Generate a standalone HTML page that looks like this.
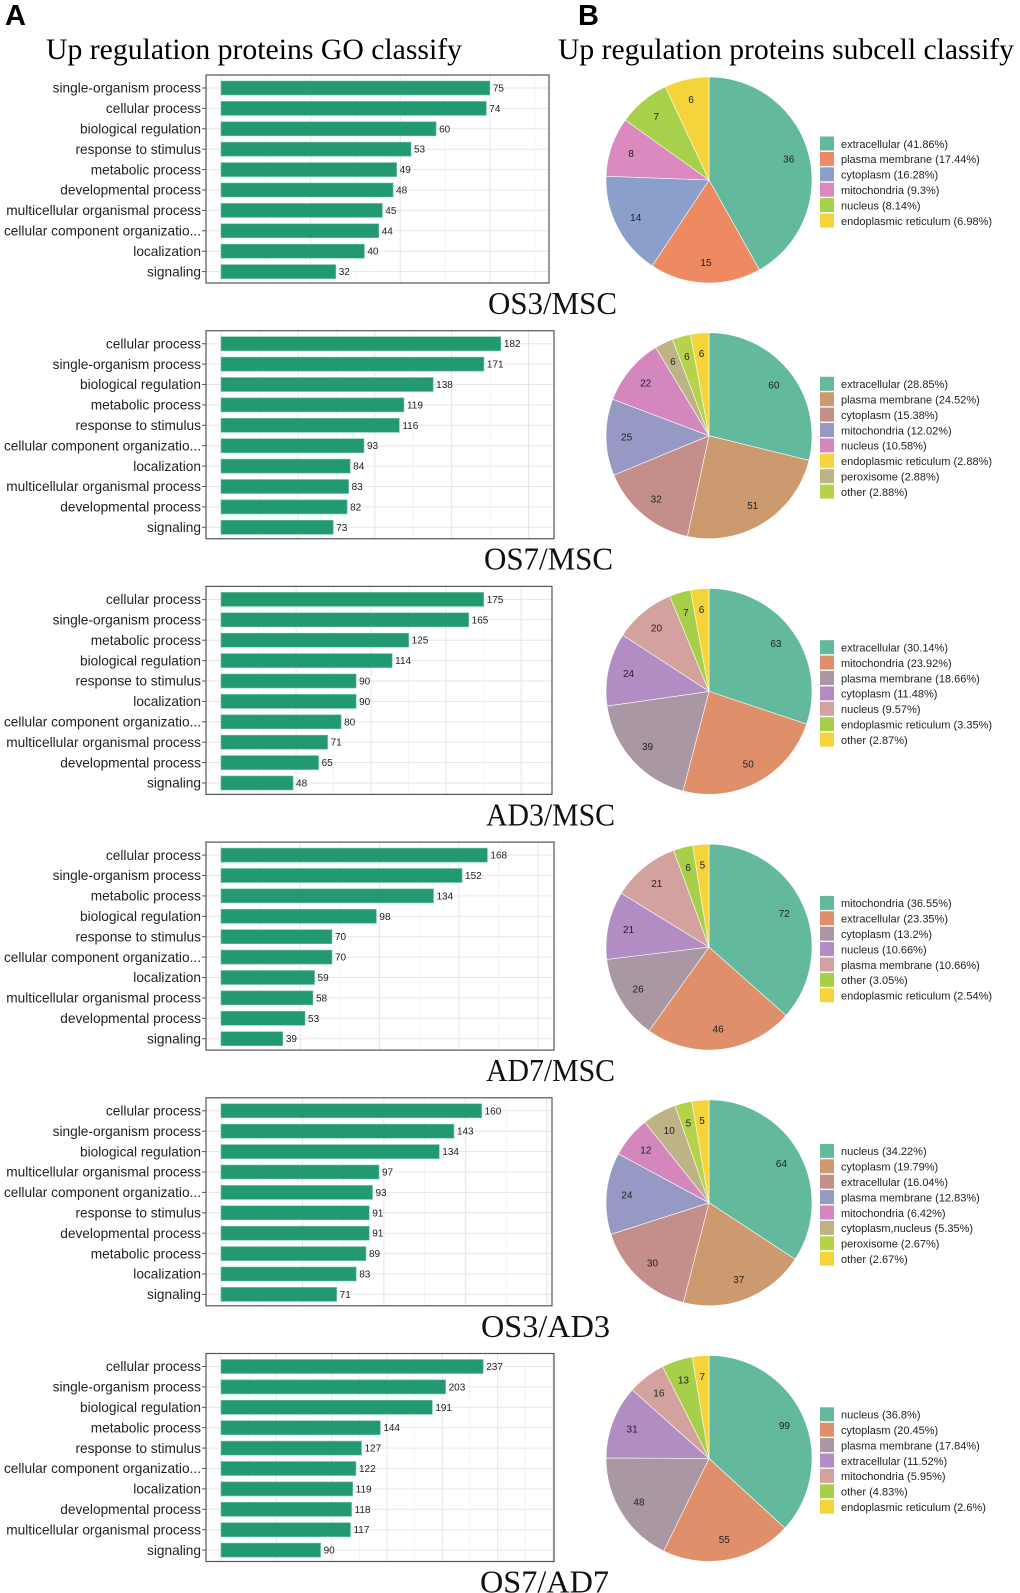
<!DOCTYPE html>
<html><head><meta charset="utf-8">
<style>
html,body{margin:0;padding:0;background:#fff;}
svg{display:block;font-family:"Liberation Sans",sans-serif;}
.serif{font-family:"Liberation Serif",serif;}
</style></head>
<body>
<svg id="fig" width="1020" height="1593" viewBox="0 0 1020 1593" xmlns="http://www.w3.org/2000/svg">
<text x="5" y="25" font-size="29" font-weight="bold">A</text>
<text x="578" y="25" font-size="29" font-weight="bold">B</text>
<text class="serif" x="46" y="59" font-size="30" textLength="416" lengthAdjust="spacingAndGlyphs">Up regulation proteins GO classify</text>
<text class="serif" x="558" y="59" font-size="30" textLength="456" lengthAdjust="spacingAndGlyphs">Up regulation proteins subcell classify</text>
</svg>
<script>
// ---- data ----
const comparisons = ["OS3/MSC","OS7/MSC","AD3/MSC","AD7/MSC","OS3/AD3","OS7/AD7"];
const goCats1 = ["single-organism process","cellular process","biological regulation","response to stimulus","metabolic process","developmental process","multicellular organismal process","cellular component organizatio...","localization","signaling"];
const goVals1 = [75,74,60,53,49,48,45,44,40,32];
const goCats2 = ["cellular process","single-organism process","biological regulation","metabolic process","response to stimulus","cellular component organizatio...","localization","multicellular organismal process","developmental process","signaling"];
const goVals2 = [182,171,138,119,116,93,84,83,82,73];
const goCats3 = ["cellular process","single-organism process","metabolic process","biological regulation","response to stimulus","localization","cellular component organizatio...","multicellular organismal process","developmental process","signaling"];
const goVals3 = [175,165,125,114,90,90,80,71,65,48];
const goCats4 = ["cellular process","single-organism process","metabolic process","biological regulation","response to stimulus","cellular component organizatio...","localization","multicellular organismal process","developmental process","signaling"];
const goVals4 = [168,152,134,98,70,70,59,58,53,39];
const goCats5 = ["cellular process","single-organism process","biological regulation","multicellular organismal process","cellular component organizatio...","response to stimulus","developmental process","metabolic process","localization","signaling"];
const goVals5 = [160,143,134,97,93,91,91,89,83,71];
const goCats6 = ["cellular process","single-organism process","biological regulation","metabolic process","response to stimulus","cellular component organizatio...","localization","developmental process","multicellular organismal process","signaling"];
const goVals6 = [237,203,191,144,127,122,119,118,117,90];

const subNames1 = ["extracellular","plasma membrane","cytoplasm","mitochondria","nucleus","endoplasmic reticulum"];
const subVals1 = [36,15,14,8,7,6];
const subPcts1 = ["41.86%","17.44%","16.28%","9.3%","8.14%","6.98%"];
const subNames2 = ["extracellular","plasma membrane","cytoplasm","mitochondria","nucleus","endoplasmic reticulum","peroxisome","other"];
const subVals2 = [60,51,32,25,22,6,6,6];
const subPcts2 = ["28.85%","24.52%","15.38%","12.02%","10.58%","2.88%","2.88%","2.88%"];
const subNames3 = ["extracellular","mitochondria","plasma membrane","cytoplasm","nucleus","endoplasmic reticulum","other"];
const subVals3 = [63,50,39,24,20,7,6];
const subPcts3 = ["30.14%","23.92%","18.66%","11.48%","9.57%","3.35%","2.87%"];
const subNames4 = ["mitochondria","extracellular","cytoplasm","nucleus","plasma membrane","other","endoplasmic reticulum"];
const subVals4 = [72,46,26,21,21,6,5];
const subPcts4 = ["36.55%","23.35%","13.2%","10.66%","10.66%","3.05%","2.54%"];
const subNames5 = ["nucleus","cytoplasm","extracellular","plasma membrane","mitochondria","cytoplasm,nucleus","peroxisome","other"];
const subVals5 = [64,37,30,24,12,10,5,5];
const subPcts5 = ["34.22%","19.79%","16.04%","12.83%","6.42%","5.35%","2.67%","2.67%"];
const subNames6 = ["nucleus","cytoplasm","plasma membrane","extracellular","mitochondria","other","endoplasmic reticulum"];
const subVals6 = [99,55,48,31,16,13,7];
const subPcts6 = ["36.8%","20.45%","17.84%","11.52%","5.95%","4.83%","2.6%"];
// clockwise drawing order of slices (indices into legend)
const pieOrder2 = [0,1,2,3,4,6,7,5];

// ---- styles / layout ----
const pal6 = ["#62b99d","#ee8a62","#8a9fc9","#db89bf","#a7d04b","#f5d33a"];
const pal7 = ["#62b99d","#df906a","#aa97a4","#b28dc4","#d4a29e","#a8cf4a","#f5d33a"];
const pal8 = ["#62b99d","#cc9a6e","#c48f8a","#9699c3","#d387bd","#beb387","#b5d24a","#f5d33a"];
const pal2 = ["#62b99d","#cc9a6e","#c48f8a","#9699c3","#d387bd","#f5d33a","#beb387","#b5d24a"];
const goCats=[goCats1,goCats2,goCats3,goCats4,goCats5,goCats6];
const goVals=[goVals1,goVals2,goVals3,goVals4,goVals5,goVals6];
const subNames=[subNames1,subNames2,subNames3,subNames4,subNames5,subNames6];
const subVals=[subVals1,subVals2,subVals3,subVals4,subVals5,subVals6];
const subPcts=[subPcts1,subPcts2,subPcts3,subPcts4,subPcts5,subPcts6];
const pals=[pal6,pal2,pal7,pal7,pal8,pal7];
const orders=[null,pieOrder2,null,null,null,null];
const domainFactor=[1.22,1.19,1.26,1.25,1.27,1.27];
const boxRights=[549,554,552,554,552,554];
const labelRights=[617,613,615,615,610,609];

const NS="http://www.w3.org/2000/svg";
const svg=document.getElementById('fig');
function mk(tag,attrs,parent){const e=document.createElementNS(NS,tag);for(const k in attrs)e.setAttribute(k,attrs[k]);(parent||svg).appendChild(e);return e;}

const PANEL_H=255.7;
for(let p=0;p<6;p++){
  const top=75+p*PANEL_H, bot=top+208, left=206, right=boxRights[p], x0=221;
  const vals=goVals[p], cats=goCats[p];
  const maxV=Math.max(...vals);
  const dom=maxV*domainFactor[p];
  const xs=v=>x0+v*(right-x0)/dom;
  const rowY=i=>top+13+i*20.4;
  const g=mk('g',{});
  
  
  const step = maxV>100?50:25;
  for(let t=0;t<=dom;t+=step/2){
    const gx=xs(t); if(gx>right) break;
    const major=(Math.round(t/(step/2))%2===0);
    const ln=mk('line',{x1:gx,x2:gx,y1:top,y2:bot,stroke:major?'#e6e6e6':'#f3f3f3','stroke-width':major?1:0.8},g);
    
    
  }
  cats.forEach((c,i)=>{
    const y=rowY(i);
    const gl=mk('line',{x1:left,x2:right,y1:y,y2:y,stroke:'#e6e6e6','stroke-width':1},g);
    
    
  });
  cats.forEach((c,i)=>{
    const y=rowY(i);
    const b=mk('rect',{x:x0,y:y-7,width:xs(vals[i])-x0,height:14,fill:'#22996f',stroke:'#6cc4a0','stroke-width':0.6},g);
    
    
    const vt=mk('text',{x:xs(vals[i])+3,y:y+3.5,'font-size':10,fill:'#222'},g);
    vt.textContent=vals[i];
    
    
    const tk=mk('line',{x1:left-4,x2:left,y1:y,y2:y,stroke:'#555','stroke-width':1},g);
    
    
    const lt=mk('text',{x:left-5,y:y+4.7,'font-size':13.7,'text-anchor':'end',fill:'#222'},g);
    lt.textContent=c;
    
    
  });
  const box=mk('rect',{x:left,y:top,width:right-left,height:bot-top,fill:'none',stroke:'#555','stroke-width':1.2},g);
  
  
  const cl=mk('text',{x:labelRights[p],y:top+239,'font-size':32,'text-anchor':'end','font-family':'Liberation Serif, serif',textLength:129,lengthAdjust:'spacingAndGlyphs',fill:'#111'},g);
  cl.textContent=comparisons[p];
  
  

  const cx=709, cy=top+105, r=103;
  const pg=mk('g',{});
  
  
  const sv=subVals[p], names=subNames[p], pal=pals[p];
  const order=orders[p]||sv.map((_,i)=>i);
  const tot=sv.reduce((a,b)=>a+b,0);
  let a0=0;
  order.forEach(i=>{
    const a1=a0+sv[i]/tot*2*Math.PI;
    const pt=a=>[cx+r*Math.sin(a),cy-r*Math.cos(a)];
    const [sx,sy]=pt(a0),[ex,ey]=pt(a1);
    const large=(a1-a0)>Math.PI?1:0;
    const s=mk('path',{d:`M${cx},${cy} L${sx},${sy} A${r},${r} 0 ${large} 1 ${ex},${ey} Z`,fill:pal[i],stroke:'#fff','stroke-width':0.6},pg);
    
    
    const am=(a0+a1)/2;
    const t=mk('text',{x:cx+0.8*r*Math.sin(am),y:cy-0.8*r*Math.cos(am)+3.5,'font-size':10,'text-anchor':'middle',fill:'#222'},pg);
    t.textContent=sv[i];
    
    
    a0=a1;
  });
  const n=names.length, pitch=15.4;
  const ly0=cy+2-n*pitch/2;
  names.forEach((nm,i)=>{
    const y=ly0+i*pitch;
    const sq=mk('rect',{x:820,y:y+0.7,width:14,height:14,fill:pal[i]},pg);
    
    
    const t=mk('text',{x:841,y:y+12,'font-size':11,fill:'#222'},pg);
    t.textContent=nm+' ('+subPcts[p][i]+')';
    
    
  });
}
</script>
</body></html>
